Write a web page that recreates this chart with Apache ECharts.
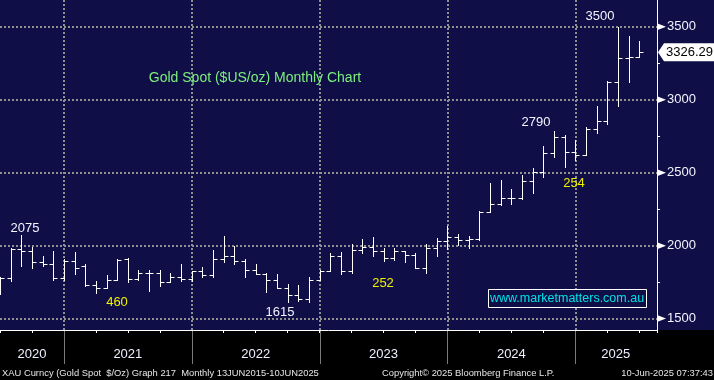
<!DOCTYPE html>
<html><head><meta charset="utf-8">
<script src="https://cdn.jsdelivr.net/npm/echarts@6/dist/echarts.min.js"></script>
<style>html,body{margin:0;padding:0;background:#000;}#c{width:714px;height:380px;}</style>
</head><body><div id="c"></div>
<script>
// ---- data (monthly OHLC, Gold Spot $US/oz) ----
const months = ['2020-06','2020-07','2020-08','2020-09','2020-10','2020-11','2020-12',
 '2021-01','2021-02','2021-03','2021-04','2021-05','2021-06','2021-07','2021-08','2021-09','2021-10','2021-11','2021-12',
 '2022-01','2022-02','2022-03','2022-04','2022-05','2022-06','2022-07','2022-08','2022-09','2022-10','2022-11','2022-12',
 '2023-01','2023-02','2023-03','2023-04','2023-05','2023-06','2023-07','2023-08','2023-09','2023-10','2023-11','2023-12',
 '2024-01','2024-02','2024-03','2024-04','2024-05','2024-06','2024-07','2024-08','2024-09','2024-10','2024-11','2024-12',
 '2025-01','2025-02','2025-03','2025-04','2025-05','2025-06'];
const opens = [1730,1778,1976,1966,1886,1875,1777,
 1897,1863,1728,1712,1767,1907,1771,1813,1814,1752,1783,1772,
 1826,1796,1908,1932,1896,1835,1806,1765,1711,1659,1634,1766,
 1824,1927,1825,1970,1990,1963,1915,1965,1938,1848,1983,2035,
 2062,2039,2044,2233,2285,2326,2326,2442,2503,2634,2748,2645,
 2624,2800,2857,3122,3287,3290];
const highs = [1785,1982,2074,1993,1931,1965,1908,
 1959,1872,1755,1799,1912,1914,1832,1833,1834,1812,1874,1826,
 1852,1972,2068,1998,1912,1876,1814,1806,1735,1730,1785,1833,
 1949,1958,2009,2047,2062,1983,1984,1966,1950,2009,2051,2135,
 2080,2066,2236,2432,2450,2389,2484,2530,2684,2788,2761,2722,
 2812,2957,3128,3500,3437,3403];
const lows = [1671,1760,1863,1849,1862,1766,1766,
 1808,1725,1677,1707,1765,1752,1762,1690,1724,1748,1760,1760,
 1782,1782,1890,1876,1787,1805,1684,1708,1615,1618,1616,1765,
 1823,1806,1810,1951,1932,1895,1903,1885,1846,1815,1932,1975,
 2004,1985,2039,2230,2281,2288,2320,2364,2472,2605,2536,2585,
 2620,2774,2832,2958,3122,3290];
const closes = [1780,1976,1966,1886,1874,1777,1897,
 1848,1728,1712,1767,1905,1771,1813,1814,1750,1783,1772,1826,
 1796,1908,1932,1896,1835,1806,1765,1711,1659,1634,1766,1824,
 1927,1825,1970,1990,1963,1915,1965,1938,1848,1983,2035,2062,
 2039,2044,2233,2285,2326,2326,2442,2503,2634,2748,2645,2624,
 2800,2857,3122,3287,3290,3326.29];
const yearLabels = ['2020','2021','2022','2023','2024','2025'];
const yearLabelPos = [-3, 6, 18, 30, 42, 51.8];   // months from 1 Jan 2021
const yearDividers = [0, 12, 24, 36, 48];
const priceTicks = [1500, 2000, 2500, 3000, 3500];
const minorPriceTicks = [1750, 2250, 2750, 3250];
const lastPrice = 3326.29;
const annotations = [
  {text:'2075', color:'#f2f4ff', x:25, y:228},
  {text:'460',  color:'#f0f000', x:117, y:302},
  {text:'1615', color:'#f2f4ff', x:280, y:312},
  {text:'252',  color:'#f0f000', x:383, y:283},
  {text:'2790', color:'#f2f4ff', x:536, y:122},
  {text:'254',  color:'#f0f000', x:574, y:183},
  {text:'3500', color:'#f2f4ff', x:600, y:16}
];

// month-end position (months since 1 Jan 2021)
function monthPos(m){ const p=m.split('-'); return (parseInt(p[0])-2021)*12 + parseInt(p[1]); }
const ohlc = months.map((m,i)=>[monthPos(m), opens[i], highs[i], lows[i], closes[i]]);

const FONT = '"Liberation Sans", Arial, sans-serif';
const NAVY = '#0f0e46';
const chart = echarts.init(document.getElementById('c'));

function crisp(v){ return Math.round(v) + 0.5; }

chart.setOption({
  animation: false,
  backgroundColor: NAVY,
  grid: {left: 0, right: 57, top: 0, bottom: 50},
  xAxis: {
    type: 'value', min: -6, max: 55.67, interval: 3,
    axisLine: {show: true, onZero: false, lineStyle: {color: '#ffffff', width: 1}},
    axisTick: {show: true, inside: false, length: 3, lineStyle: {color: '#ffffff'}},
    splitLine: {show: false},
    axisLabel: {
      show: true, customValues: yearLabelPos, margin: 18,
      color: '#eef0ff', fontSize: 13, fontFamily: FONT,
      formatter: function(v){
        let best=0, bd=1e9;
        yearLabelPos.forEach((p,i)=>{ const d=Math.abs(p-v); if(d<bd){bd=d;best=i;} });
        return yearLabels[best];
      }
    }
  },
  yAxis: {
    type: 'value', position: 'right', min: 1422, max: 3684, scale: true,
    axisLine: {show: true, onZero: false, lineStyle: {color: '#ffffff', width: 1}},
    axisTick: {show: true, customValues: minorPriceTicks, length: 3, inside: false, lineStyle: {color: '#ffffff'}},
    splitLine: {show: false},
    axisLabel: {show: true, customValues: priceTicks, margin: 10, color: '#f2f4ff', fontSize: 13, fontFamily: FONT,
      formatter: function(v){ return String(v); }}
  },
  series: [
    {
      type: 'line', data: [], z: 1, silent: true,
      markLine: {
        silent: true, symbol: 'none', animation: false,
        label: {show: false},
        lineStyle: {color: '#909090', type: [2, 2], width: 2},
        data: priceTicks.map(v=>({yAxis: v})).concat(yearDividers.map(v=>({xAxis: v})))
      }
    },
    {
      type: 'custom', z: 5, clip: true,
      data: ohlc,
      encode: {x: 0, y: [1,2,3,4]},
      renderItem: function(params, api){
        const x = api.value(0);
        const ph = api.coord([x, api.value(2)]);
        const pl = api.coord([x, api.value(3)]);
        const po = api.coord([x, api.value(1)]);
        const pc = api.coord([x, api.value(4)]);
        const px = crisp(ph[0]);
        const st = {stroke: '#ffffff', lineWidth: 1};
        return {type: 'group', children: [
          {type: 'line', shape: {x1: px, y1: Math.round(ph[1]), x2: px, y2: Math.round(pl[1]) + 1}, style: st},
          {type: 'line', shape: {x1: px - 4, y1: crisp(po[1]), x2: px, y2: crisp(po[1])}, style: st},
          {type: 'line', shape: {x1: px, y1: crisp(pc[1]), x2: px + 4, y2: crisp(pc[1])}, style: st}
        ]};
      }
    }
  ]
});

// ---- graphics placed through the axes' scales ----
const g = [];
g.push({type: 'rect', z: -10, shape: {x: 0, y: 330, width: 714, height: 50}, style: {fill: '#000000'}});
yearDividers.forEach(v=>{
  const x = crisp(chart.convertToPixel({xAxisIndex: 0}, v));
  g.push({type: 'line', z: 10, shape: {x1: x, y1: 331, x2: x, y2: 364}, style: {stroke: '#7a7a7a', lineWidth: 1}});
});
priceTicks.forEach(v=>{
  const y = chart.convertToPixel({yAxisIndex: 0}, v);
  g.push({type: 'polygon', z: 10, shape: {points: [[657, y - 3.5], [666, y], [657, y + 3.5]]}, style: {fill: '#ffffff'}});
});
const ly = chart.convertToPixel({yAxisIndex: 0}, lastPrice);
g.push({type: 'polygon', z: 10, shape: {points: [[658, ly], [664, ly - 9], [714, ly - 9], [714, ly + 9], [664, ly + 9]]}, style: {fill: '#ffffff'}});
g.push({type: 'text', z: 11, x: 666, y: ly, style: {text: lastPrice.toFixed(2), fill: '#000000', font: '13px ' + FONT, verticalAlign: 'middle', align: 'left'}});

g.push({type: 'text', z: 10, x: 255, y: 78, style: {text: 'Gold Spot ($US/oz) Monthly Chart', fill: '#7cf07c', font: '14px ' + FONT, align: 'center', verticalAlign: 'middle'}});
annotations.forEach(a=>{
  g.push({type: 'text', z: 10, x: a.x, y: a.y, style: {text: a.text, fill: a.color, font: '13px ' + FONT, align: 'center', verticalAlign: 'middle'}});
});
g.push({type: 'rect', z: 10, shape: {x: 488.5, y: 289.5, width: 158, height: 18}, style: {fill: NAVY, stroke: '#ffffff', lineWidth: 1}});
g.push({type: 'text', z: 11, x: 567, y: 299, style: {text: 'www.marketmatters.com.au', fill: '#00e2e8', font: '12.5px ' + FONT, align: 'center', verticalAlign: 'middle'}});

g.push({type: 'text', z: 10, x: 2, y: 373, style: {text: 'XAU Curncy (Gold Spot  $/Oz) Graph 217  Monthly 13JUN2015-10JUN2025', fill: '#e6e6e6', font: '9.4px ' + FONT, align: 'left', verticalAlign: 'middle'}});
g.push({type: 'text', z: 10, x: 382, y: 373, style: {text: 'Copyright\u00a9 2025 Bloomberg Finance L.P.', fill: '#e6e6e6', font: '9.4px ' + FONT, align: 'left', verticalAlign: 'middle'}});
g.push({type: 'text', z: 10, x: 713, y: 373, style: {text: '10-Jun-2025 07:37:43', fill: '#e6e6e6', font: '9.4px ' + FONT, align: 'right', verticalAlign: 'middle'}});

chart.setOption({graphic: g});
</script>
</body></html>
